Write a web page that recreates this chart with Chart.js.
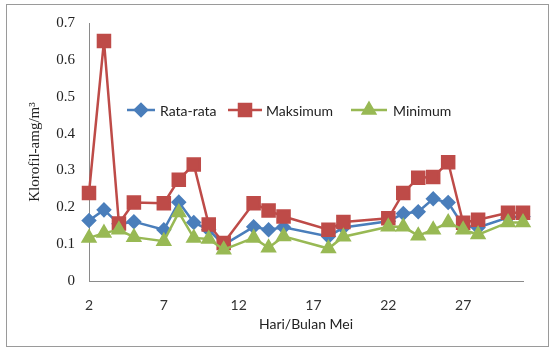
<!DOCTYPE html>
<html>
<head>
<meta charset="utf-8">
<script src="https://cdn.jsdelivr.net/npm/chart.js"></script>
<style>
  body { margin: 0; background: #fff; }
  canvas { display: block; }
</style>
</head>
<body>
<canvas id="klorofil" width="556" height="349"></canvas>
<script>
// hari pengamatan bulan Mei (2..31), null = tidak ada pengamatan
const days = ['2', '3', '4', '5', '6', '7', '8', '9', '10', '11', '12', '13', '14', '15', '16',
  '17', '18', '19', '20', '21', '22', '23', '24', '25', '26', '27', '28', '29', '30', '31'];

const rataRata = [0.164, 0.193, 0.155, 0.161, null, 0.139, 0.214, 0.159, 0.139, 0.098, null, 0.147, 0.139, 0.146, null,
  null, 0.121, 0.145, null, null, 0.162, 0.183, 0.188, 0.223, 0.213, 0.150, 0.145, null, 0.172, 0.175];

const maksimum = [0.239, 0.651, 0.156, 0.213, null, 0.211, 0.275, 0.316, 0.153, 0.103, null, 0.211, 0.191, 0.175, null,
  null, 0.139, 0.160, null, null, 0.170, 0.239, 0.280, 0.282, 0.322, 0.158, 0.166, null, 0.185, 0.185];

const minimum = [0.117, 0.130, 0.139, 0.119, null, 0.108, 0.186, 0.117, 0.114, 0.085, null, 0.117, 0.090, 0.121, null,
  null, 0.088, 0.120, null, null, 0.147, 0.147, 0.123, 0.139, 0.159, 0.139, 0.126, null, 0.159, 0.159];

const yTicks = [0, 0.1, 0.2, 0.3, 0.4, 0.5, 0.6, 0.7];

const BLUE = '#4A7EBB', RED = '#BE4B48', GREEN = '#98B954';

// frame around the whole chart
const framePlugin = {
  id: 'frame',
  beforeDraw(chart) {
    const ctx = chart.ctx;
    ctx.save();
    ctx.fillStyle = '#fff';
    ctx.fillRect(0, 0, chart.width, chart.height);
    ctx.strokeStyle = '#9a9a9a';
    ctx.lineWidth = 1;
    ctx.strokeRect(6.5, 4.5, 542, 342);
    ctx.restore();
  }
};

// Excel-style legend inside the plot: line with marker, then label
const legendPlugin = {
  id: 'innerLegend',
  afterDraw(chart) {
    const ctx = chart.ctx;
    const y = 110;
    const items = [
      { ds: 0, x1: 127, x2: 155, tx: 160 },
      { ds: 1, x1: 228, x2: 262, tx: 266 },
      { ds: 2, x1: 351, x2: 387, tx: 393 },
    ];
    ctx.save();
    items.forEach(it => {
      const d = chart.data.datasets[it.ds];
      ctx.strokeStyle = d.borderColor;
      ctx.lineWidth = d.borderWidth;
      ctx.beginPath();
      ctx.moveTo(it.x1, y);
      ctx.lineTo(it.x2, y);
      ctx.stroke();
      ctx.fillStyle = d.pointBackgroundColor;
      ctx.strokeStyle = d.pointBorderColor;
      Chart.helpers.drawPoint(ctx, {
        pointStyle: d.pointStyle,
        radius: d.pointRadius,
        borderWidth: 1,
        rotation: 0
      }, (it.x1 + it.x2) / 2, y);
      ctx.fillStyle = '#222';
      ctx.font = '14px Lato';
      ctx.textBaseline = 'middle';
      ctx.fillText(d.label, it.tx, y + 1);
    });
    ctx.restore();
  }
};

new Chart(document.getElementById('klorofil'), {
  type: 'line',
  plugins: [framePlugin, legendPlugin],
  data: {
    labels: days,
    datasets: [
      {
        label: 'Rata-rata',
        data: rataRata,
        borderColor: BLUE,
        borderWidth: 2.5,
        pointStyle: 'rectRot',
        pointRadius: 6,
        pointBackgroundColor: BLUE,
        pointBorderColor: BLUE,
        order: 3,
      },
      {
        label: 'Maksimum',
        data: maksimum,
        borderColor: RED,
        borderWidth: 2.5,
        pointStyle: 'rect',
        pointRadius: 8.5,
        pointBackgroundColor: RED,
        pointBorderColor: RED,
        order: 2,
      },
      {
        label: 'Minimum',
        data: minimum,
        borderColor: GREEN,
        borderWidth: 2.5,
        pointStyle: 'triangle',
        pointRadius: 7,
        pointBackgroundColor: GREEN,
        pointBorderColor: GREEN,
        order: 1,
      }
    ]
  },
  options: {
    responsive: false,
    animation: false,
    spanGaps: true,
    layout: {
      padding: { left: 0, right: 33, top: 20, bottom: 0 }
    },
    plugins: {
      legend: { display: false },
      tooltip: { enabled: false },
    },
    scales: {
      x: {
        offset: false,
        afterFit: s => { s.height = 68; },
        grid: { display: false, drawTicks: false },
        border: { color: '#8a8a8a', width: 1 },
        ticks: {
          autoSkip: false,
          maxRotation: 0,
          padding: 16,
          color: '#333',
          font: { family: 'Lato', size: 14 },
          callback: function (value, index) {
            return index % 5 === 0 ? this.getLabelForValue(value) : '';
          }
        },
        title: {
          display: true,
          text: 'Hari/Bulan Mei',
          color: '#222',
          font: { family: 'Lato', size: 14 },
          padding: { top: 0, bottom: 16 }
        }
      },
      y: {
        min: 0,
        max: 0.7,
        afterFit: s => { s.width = 89; },
        afterBuildTicks: s => { s.ticks = yTicks.map(v => ({ value: v })); },
        grid: { display: false, drawTicks: false },
        border: { color: '#8a8a8a', width: 1 },
        ticks: {
          padding: 14,
          color: '#222',
          font: { family: 'Liberation Serif', size: 15 },
        },
        title: {
          display: true,
          text: 'Klorofil-amg/m³',
          color: '#222',
          font: { family: 'Liberation Serif', size: 15 },
          padding: { top: 26, bottom: 0 }
        }
      }
    }
  }
});
</script>
</body>
</html>
